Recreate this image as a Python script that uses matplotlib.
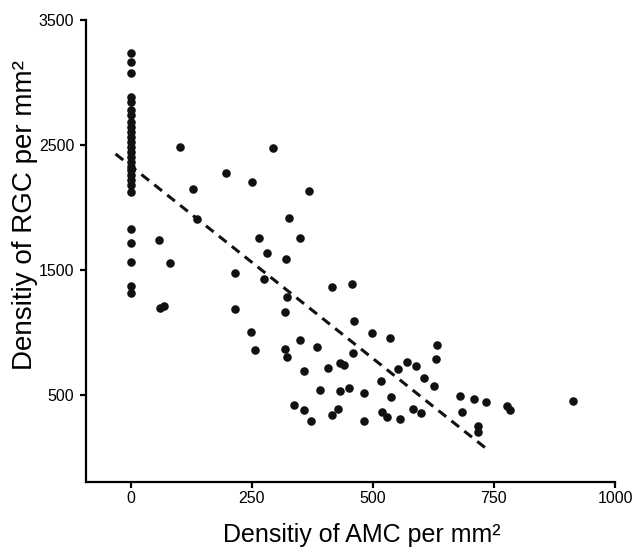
import numpy as np
import matplotlib
matplotlib.use("Agg")
import matplotlib.pyplot as plt

plt.rcParams['font.family'] = ['Liberation Sans', 'DejaVu Sans']

# AMC density = 0 group (the vertical column)
zero_rgc = [3238, 3162, 3074, 2882, 2846, 2780, 2740, 2686, 2646, 2606, 2566,
            2526, 2486, 2446, 2406, 2366, 2326, 2300, 2260, 2220, 2180, 2126,
            1828, 1714, 1566, 1372, 1318]

# remaining samples (AMC, RGC)
amc = [101.6, 294, 197, 251, 129, 137.5, 58, 266, 282, 81, 216.5, 275, 60, 69,
       216.5, 249, 256, 368, 328, 349, 321.6, 416, 458, 323, 318, 462, 498, 535,
       632, 318, 349, 385, 323, 460, 631, 570, 589, 432, 440, 551, 407, 357,
       605, 517, 626, 392, 432, 451, 482, 538, 337, 357, 416, 428, 373, 482,
       520, 529, 557, 582, 600, 679, 708, 733, 685, 717, 717, 778, 784, 913]
rgc = [2486, 2478, 2273, 2204, 2148, 1906, 1740, 1753, 1638, 1558, 1473, 1425,
       1193, 1214, 1185, 1001, 860, 2134, 1916, 1758, 1585, 1366, 1388, 1286,
       1166, 1092, 998, 956, 900, 865, 937, 887, 807, 839, 788, 761, 735, 753,
       740, 708, 719, 692, 633, 615, 572, 542, 535, 556, 518, 484, 417, 380,
       340, 386, 292, 292, 367, 327, 311, 386, 356, 494, 466, 444, 361, 254,
       206, 412, 380, 450]

# regression line as drawn in the figure
fit_slope = -3.08
fit_intercept = 2333
fit_range = [-31, 742]

x_all = [0] * len(zero_rgc) + amc
y_all = zero_rgc + rgc

fig = plt.figure(figsize=(6.37, 5.51), dpi=100)
ax = fig.add_axes([0.135, 0.1252, 0.8305, 0.8385])

ax.scatter(x_all, y_all, s=38, color='#111111', linewidths=0, zorder=3)
fx = np.array(fit_range)
ax.plot(fx, fit_slope * fx + fit_intercept, color='#111111', lw=2.2,
        dashes=(3.2, 2.2), zorder=2)

ax.set_xlim(-92, 1000)
ax.set_ylim(-196, 3500)
ax.set_xticks([0, 250, 500, 750, 1000])
ax.set_yticks([500, 1500, 2500, 3500])

for s in ['top', 'right']:
    ax.spines[s].set_visible(False)
for s in ['left', 'bottom']:
    ax.spines[s].set_linewidth(1.6)
ax.tick_params(width=1.6, length=4.5, labelsize=11.5)
ax.tick_params(axis='y', pad=4)
ax.tick_params(axis='x', pad=2)

ax.set_xlabel('Densitiy of AMC per mm²', fontsize=18)
ax.set_ylabel('Densitiy of RGC per mm²', fontsize=20)
ax.xaxis.set_label_coords(0.522, -0.089)
ax.yaxis.set_label_coords(-0.09, 0.578)

fig.savefig('out.png', dpi=100)
